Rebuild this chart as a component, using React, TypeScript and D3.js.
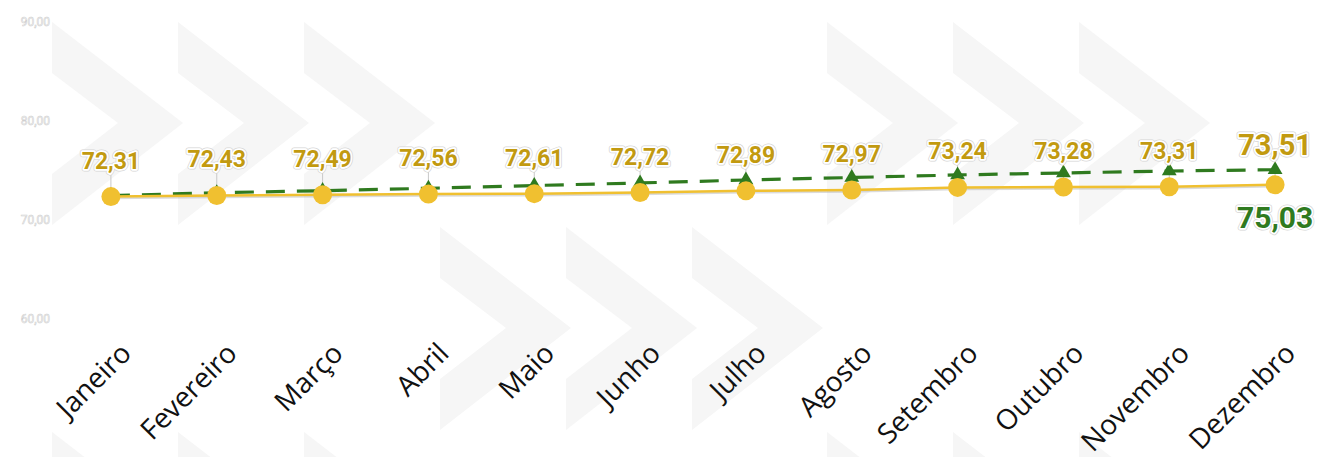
import { useEffect, useRef } from "react";
import * as d3 from "d3";

const months = [
  "Janeiro", "Fevereiro", "Março", "Abril", "Maio", "Junho",
  "Julho", "Agosto", "Setembro", "Outubro", "Novembro", "Dezembro",
];
const realizado = [72.31, 72.43, 72.49, 72.56, 72.61, 72.72, 72.89, 72.97, 73.24, 73.28, 73.31, 73.51];
const meta = [72.4, 72.7, 72.91, 73.15, 73.43, 73.69, 73.99, 74.24, 74.5, 74.7, 74.9, 75.03];
const yTicks = [60, 70, 80, 90];

// background chevrons: group start x, row top y
const chevronGroups = [
  { x: 52, y: 22 },
  { x: 440, y: 227 },
  { x: 827, y: 22 },
];

const fmt = (v: number) => v.toFixed(2).replace(".", ",");

const W = 1318;
const H = 457;

export default function App() {
  const svgRef = useRef<SVGSVGElement>(null);

  useEffect(() => {
    if (!svgRef.current) return;
    const svg = d3.select(svgRef.current);
    svg.selectAll("*").remove();

    const x = d3.scaleBand<string>().domain(months).range([58, 1328]);
    const cx = (m: string) => (x(m) as number) + x.bandwidth() / 2;
    const y = d3.scaleLinear().domain([60, 90]).range([318.3, 21.7]);

    // Chevron background
    const chev = (x0: number, y0: number) =>
      `M${x0},${y0} L${x0 + 131},${y0 + 101} L${x0},${y0 + 203} L${x0},${y0 + 152} L${x0 + 66},${y0 + 101} L${x0},${y0 + 51} Z`;
    const bg = svg.append("g");
    chevronGroups.forEach((grp) => {
      [0, 1, 2].forEach((i) => {
        [grp.y, grp.y + 410].forEach((yy) => {
          bg.append("path").attr("d", chev(grp.x + i * 126, yy)).attr("fill", "#f6f6f6");
        });
      });
    });

    // Y axis labels
    svg
      .append("g")
      .selectAll("text")
      .data(yTicks)
      .join("text")
      .attr("x", 50)
      .attr("y", (d) => y(d))
      .attr("dy", "0.35em")
      .attr("text-anchor", "end")
      .attr("font-family", "Roboto")
      .attr("font-size", 12)
      .attr("fill", "#fff")
      .attr("stroke", "#cfcfcf")
      .attr("stroke-width", 0.6)
      .text((d) => fmt(d));

    // X labels
    svg
      .append("g")
      .selectAll("text")
      .data(months)
      .join("text")
      .attr("transform", (d) => `translate(${cx(d) + 22},${355}) rotate(-45)`)
      .attr("text-anchor", "end")
      .attr("font-family", "Open Sans")
      .attr("font-size", 28)
      .attr("fill", "#111")
      .text((d) => d);

    // Leader lines
    svg
      .append("g")
      .selectAll("line")
      .data(months)
      .join("line")
      .attr("x1", (d) => cx(d))
      .attr("x2", (d) => cx(d))
      .attr("y1", (_, i) => y(realizado[i]) - 24)
      .attr("y2", (_, i) => y(realizado[i]) - 6)
      .attr("stroke", "#c8c8c8")
      .attr("stroke-width", 1);

    const lineR = d3
      .line<number>()
      .x((_, i) => cx(months[i]))
      .y((d) => y(d));

    // soft shadow under the yellow line
    svg
      .append("path")
      .attr("d", lineR(realizado) as string)
      .attr("transform", "translate(0,1.5)")
      .attr("fill", "none")
      .attr("stroke", "#999")
      .attr("stroke-opacity", 0.35)
      .attr("stroke-width", 2.5);

    // Green dashed line
    svg
      .append("path")
      .attr("d", lineR(meta) as string)
      .attr("fill", "none")
      .attr("stroke", "#2f7a1f")
      .attr("stroke-width", 3.2)
      .attr("stroke-dasharray", "19,12");

    svg
      .append("g")
      .selectAll("path")
      .data(meta)
      .join("path")
      .attr("d", d3.symbol(d3.symbolTriangle, 95) as any)
      .attr("transform", (d, i) => `translate(${cx(months[i])},${y(d)})`)
      .attr("fill", "#2f7a1f");

    svg
      .append("path")
      .attr("d", lineR(realizado) as string)
      .attr("fill", "none")
      .attr("stroke", "#f0c030")
      .attr("stroke-width", 2.5);

    svg
      .append("g")
      .selectAll("circle")
      .data(realizado)
      .join("circle")
      .attr("cx", (_, i) => cx(months[i]))
      .attr("cy", (d) => y(d))
      .attr("r", 9.5)
      .attr("fill", "#f0c030");

    // Halo label helper
    const label = (
      g: d3.Selection<SVGGElement, unknown, null, undefined>,
      tx: number,
      ty: number,
      text: string,
      size: number,
      color: string
    ) => {
      g.append("text")
        .attr("x", tx)
        .attr("y", ty)
        .attr("text-anchor", "middle")
        .attr("font-family", "Roboto")
        .attr("font-weight", 700)
        .attr("font-size", size)
        .attr("fill", "none")
        .attr("stroke", "#d6d6d6")
        .attr("stroke-width", 5)
        .attr("stroke-linejoin", "round")
        .text(text);
      g.append("text")
        .attr("x", tx)
        .attr("y", ty)
        .attr("text-anchor", "middle")
        .attr("font-family", "Roboto")
        .attr("font-weight", 700)
        .attr("font-size", size)
        .attr("fill", color)
        .attr("stroke", "#fff")
        .attr("stroke-width", 3.5)
        .attr("stroke-linejoin", "round")
        .attr("paint-order", "stroke")
        .text(text);
    };

    const labels = svg.append("g");
    realizado.forEach((v, i) => {
      const last = i === realizado.length - 1;
      label(labels, cx(months[i]), y(v) - (last ? 30 : 28), fmt(v), last ? 29 : 23, "#c29a10");
    });
    const li = meta.length - 1;
    label(labels, cx(months[li]), y(meta[li]) + 58, fmt(meta[li]), 30, "#2f7a1f");
  }, []);

  return (
    <svg
      ref={svgRef}
      width={W}
      height={H}
      style={{ position: "absolute", left: 0, top: 0, background: "#fff" }}
    />
  );
}
